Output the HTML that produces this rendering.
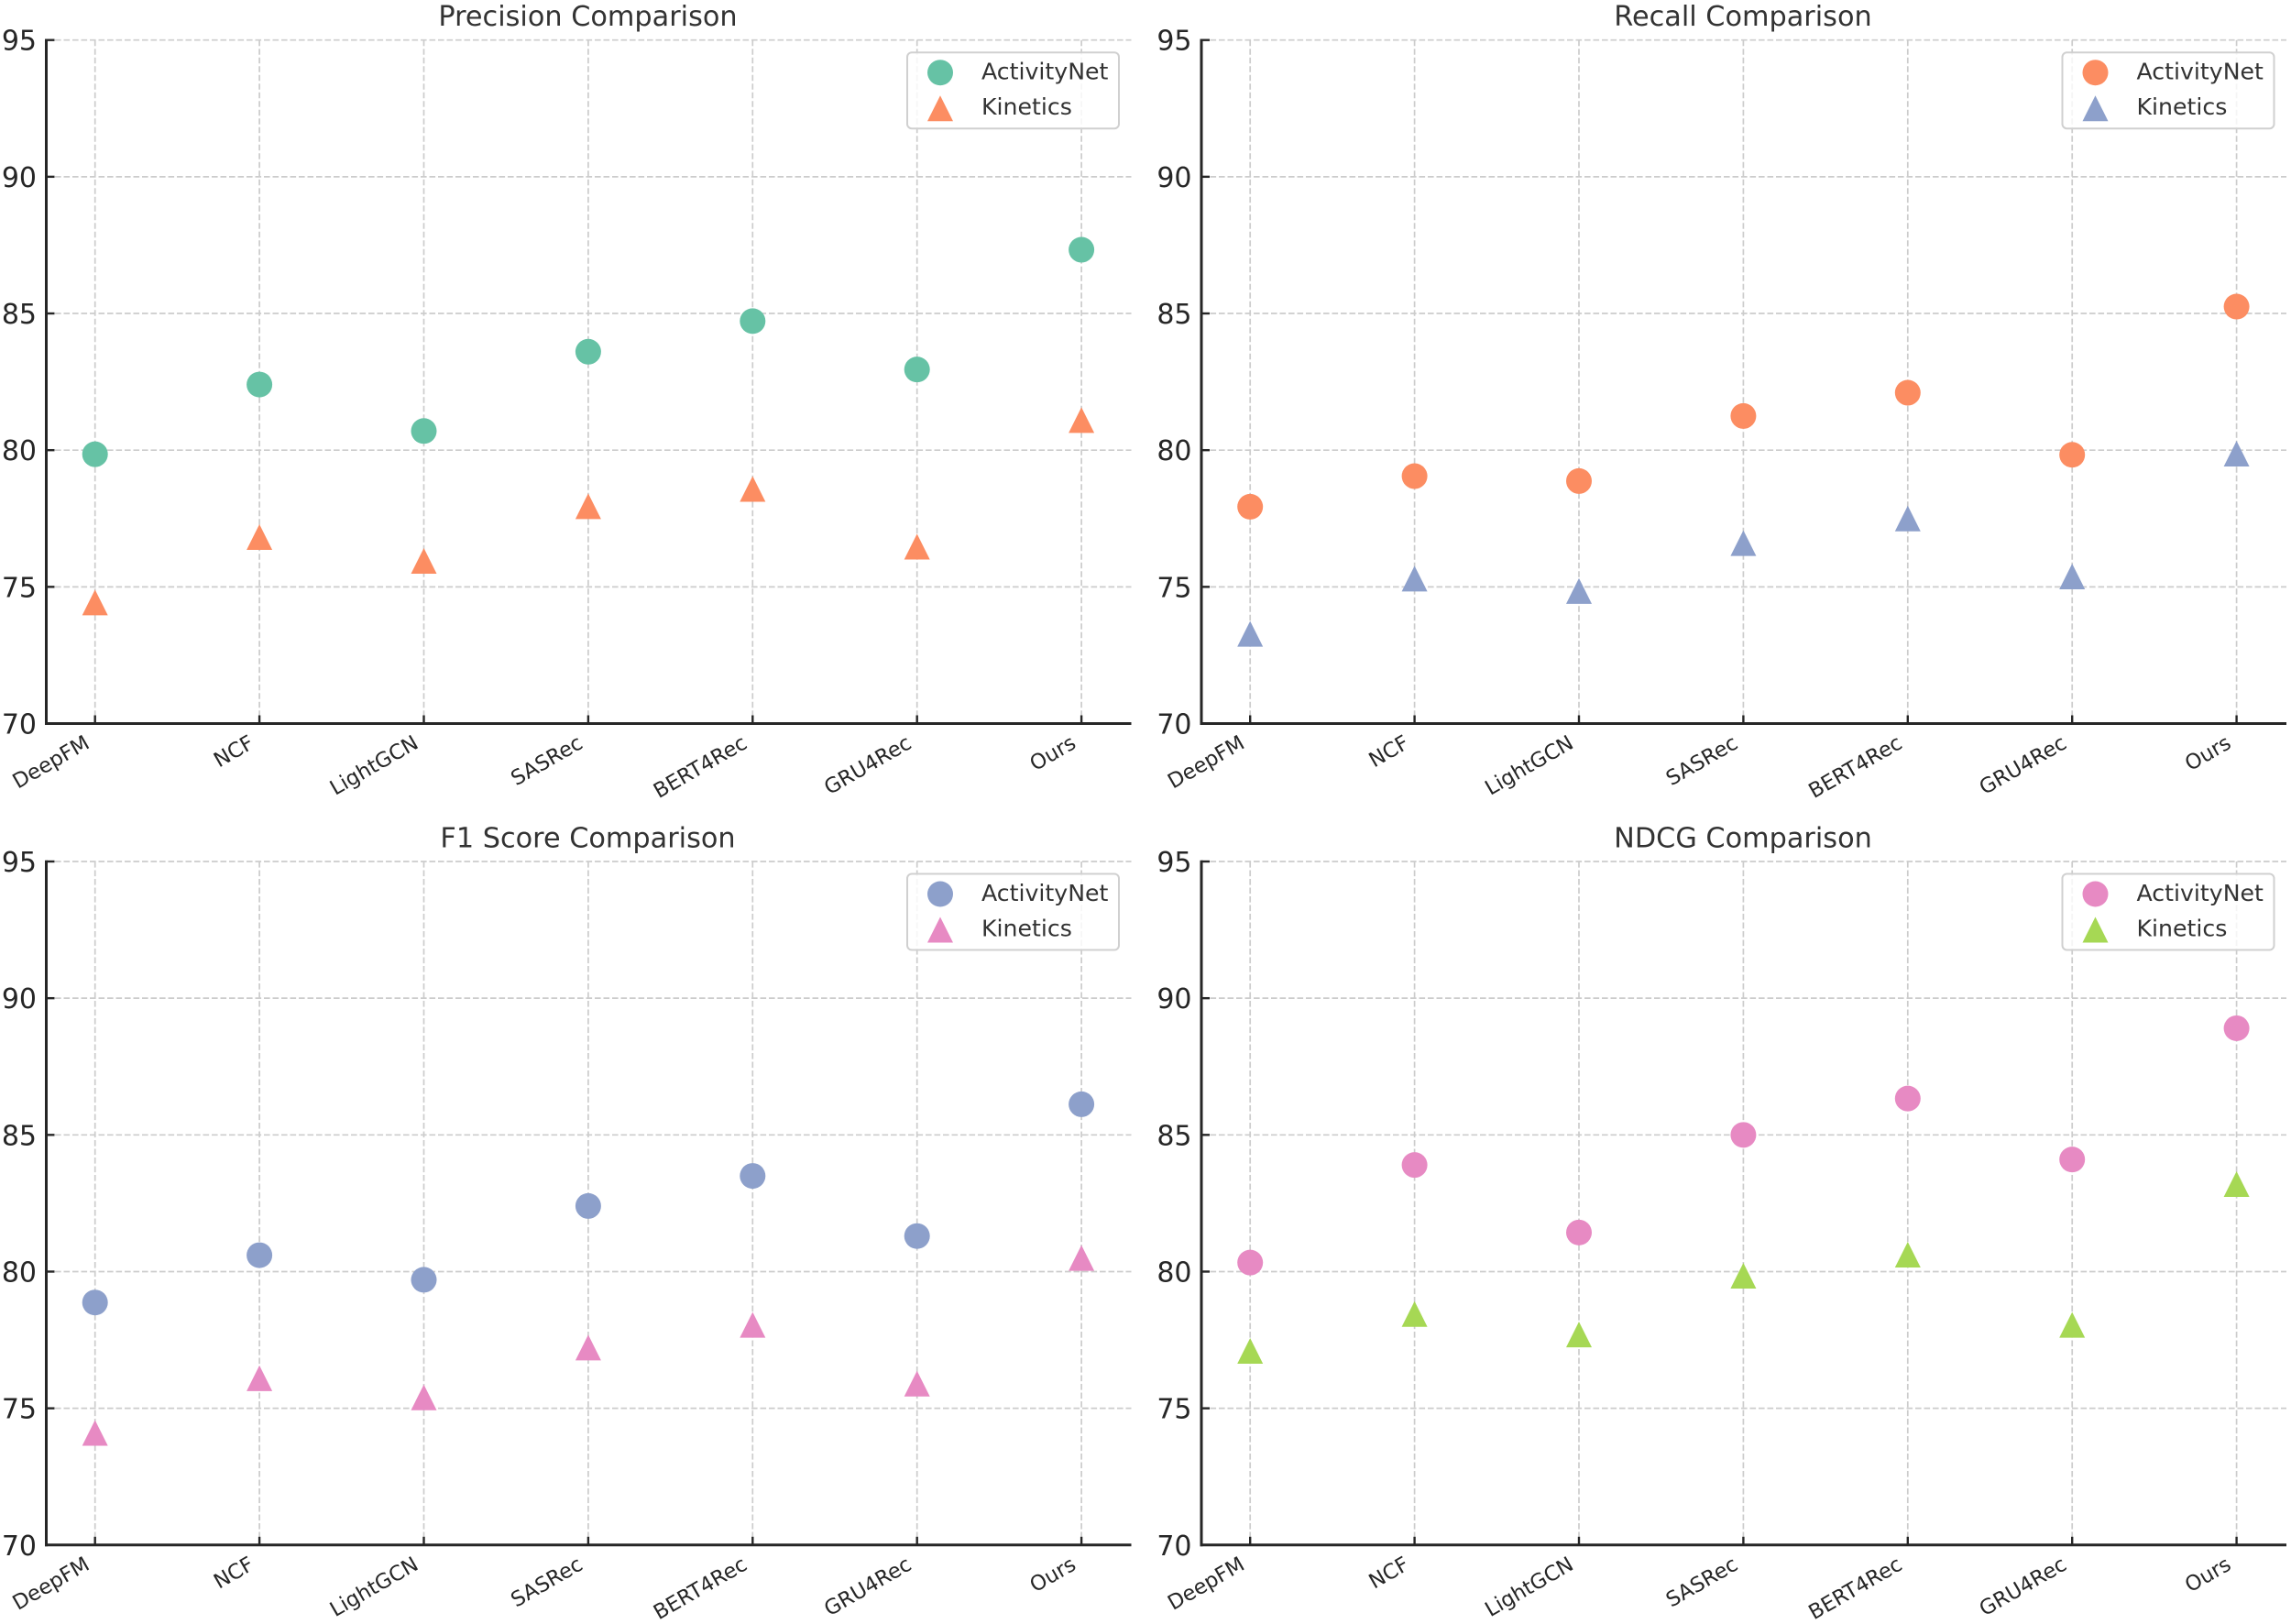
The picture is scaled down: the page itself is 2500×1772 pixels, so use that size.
<!DOCTYPE html>
<html lang="en">
<head>
<meta charset="utf-8">
<title>Model comparison charts</title>
<style>
html,body{margin:0;padding:0;background:#fff;}
svg{display:block;}
text{font-family:"DejaVu Sans","Liberation Sans",sans-serif;}
</style>
</head>
<body>
<svg id="chart" xmlns="http://www.w3.org/2000/svg" width="2500" height="1772" viewBox="0 0 2500 1772">
<rect x="0" y="0" width="2500" height="1772" fill="#ffffff"/>
</svg>
<script>
const categories = ['DeepFM','NCF','LightGCN','SASRec','BERT4Rec','GRU4Rec','Ours'];
const yTicks = [70,75,80,85,90,95];
const seriesNames = ['ActivityNet','Kinetics'];

const precisionActivityNet = [79.85,82.4,80.7,83.6,84.72,82.95,87.33];
const precisionKinetics = [74.43,76.82,75.95,77.95,78.58,76.47,81.1];
const recallActivityNet = [77.93,79.05,78.87,81.25,82.1,79.83,85.25];
const recallKinetics = [73.28,75.3,74.85,76.6,77.5,75.38,79.87];
const f1ActivityNet = [78.87,80.6,79.7,82.4,83.5,81.3,86.12];
const f1Kinetics = [74.1,76.1,75.4,77.22,78.05,75.9,80.5];
const ndcgActivityNet = [80.33,83.9,81.43,85.0,86.33,84.1,88.9];
const ndcgKinetics = [77.1,78.45,77.7,79.85,80.62,78.05,83.2];

const svg = document.getElementById('chart');
const NS = 'http://www.w3.org/2000/svg';
const INK = '#262626';
const TITLE_INK = '#333333';
const MARKER = 28;

function mk(parent, tag, attrs, txt) {
  const el = document.createElementNS(NS, tag);
  for (const k in attrs) el.setAttribute(k, attrs[k]);
  if (txt !== undefined) el.textContent = txt;
  parent.appendChild(el);
  return el;
}
function slug(s) { return s.toLowerCase().replace(/[^a-z0-9]+/g, '-'); }

function drawPanel(p) {
  const yMin = 70, yMax = 95;
  const L = p.left, R = p.left + 1184, T = p.top, B = p.top + 745.8;
  const xOf = i => L + 53.2 + i * 179.4;
  const yOf = v => B - (v - yMin) / (yMax - yMin) * (B - T);
  const key = slug(p.key);

  const g = mk(svg, 'g', {});
  
  

  yTicks.forEach(t => {
    const line = mk(g, 'line', {x1:L, x2:R, y1:yOf(t), y2:yOf(t), stroke:'#cccccc', 'stroke-width':1.7, 'stroke-dasharray':'6.6 2.9'});
    
    
  });
  categories.forEach((c, i) => {
    const line = mk(g, 'line', {x1:xOf(i), x2:xOf(i), y1:T, y2:B, stroke:'#cccccc', 'stroke-width':1.7, 'stroke-dasharray':'6.6 2.9'});
    
    
  });

  yTicks.forEach(t => {
    const tick = mk(g, 'line', {x1:L, x2:L + 9, y1:yOf(t), y2:yOf(t), stroke:INK, 'stroke-width':2.4});
    
    
    const label = mk(g, 'text', {x:L - 10.5, y:yOf(t) + 11, 'text-anchor':'end', 'font-size':30, fill:INK}, String(t));
    
    
  });
  categories.forEach((c, i) => {
    const tick = mk(g, 'line', {x1:xOf(i), x2:xOf(i), y1:B, y2:B - 9, stroke:INK, 'stroke-width':2.4});
    
    
    const ax = xOf(i) - 4.5, ay = B + 25.5;
    const label = mk(g, 'text', {x:ax, y:ay, 'text-anchor':'end', 'font-size':22.6, fill:INK, transform:'rotate(-30 ' + ax + ' ' + ay + ')'}, c);
    
    
  });

  const spineLeft = mk(g, 'line', {x1:L, x2:L, y1:T - 1.2, y2:B + 1.5, stroke:INK, 'stroke-width':3});
  
  
  const spineBottom = mk(g, 'line', {x1:L - 1.5, x2:R, y1:B, y2:B, stroke:INK, 'stroke-width':3});
  
  

  const title = mk(g, 'text', {x:(L + R) / 2 - 1, y:T - 15.5, 'text-anchor':'middle', 'font-size':30.3, fill:TITLE_INK}, p.title);
  
  

  p.activity.forEach((v, i) => {
    const dot = mk(g, 'circle', {cx:xOf(i), cy:yOf(v), r:MARKER / 2, fill:p.colors[0]});
    
    
  });
  p.kinetics.forEach((v, i) => {
    const x = xOf(i), y = yOf(v), h = MARKER / 2;
    const tri = mk(g, 'polygon', {points:[x, y - h, x + h, y + h, x - h, y + h].join(' '), fill:p.colors[1]});
    
    
  });

  const lg = mk(g, 'g', {});
  
  
  const lx = L + 939.5, ly = T + 13.5;
  const box = mk(lg, 'rect', {x:lx, y:ly, width:231, height:83, rx:5, ry:5, fill:'#ffffff', 'fill-opacity':0.8, stroke:'#d0d0d0', 'stroke-width':2});
  
  
  const mx = lx + 36;
  const c = mk(lg, 'circle', {cx:mx, cy:ly + 22, r:MARKER / 2, fill:p.colors[0]});
  
  
  const t1 = mk(lg, 'text', {x:lx + 81, y:ly + 29.5, 'font-size':25.2, fill:TITLE_INK}, seriesNames[0]);
  
  
  const ty = ly + 61, th = MARKER / 2;
  const m2 = mk(lg, 'polygon', {points:[mx, ty - th, mx + th, ty + th, mx - th, ty + th].join(' '), fill:p.colors[1]});
  
  
  const t2 = mk(lg, 'text', {x:lx + 81, y:ly + 68, 'font-size':25.2, fill:TITLE_INK}, seriesNames[1]);
  
  
}

drawPanel({key:'precision', title:'Precision Comparison', left:50.5, top:43.7, colors:['#66c2a5','#fc8d62'], activity:precisionActivityNet, kinetics:precisionKinetics});
drawPanel({key:'recall', title:'Recall Comparison', left:1311, top:43.7, colors:['#fc8d62','#8da0cb'], activity:recallActivityNet, kinetics:recallKinetics});
drawPanel({key:'f1-score', title:'F1 Score Comparison', left:50.5, top:940, colors:['#8da0cb','#e78ac3'], activity:f1ActivityNet, kinetics:f1Kinetics});
drawPanel({key:'ndcg', title:'NDCG Comparison', left:1311, top:940, colors:['#e78ac3','#a6d854'], activity:ndcgActivityNet, kinetics:ndcgKinetics});
</script>
</body>
</html>
